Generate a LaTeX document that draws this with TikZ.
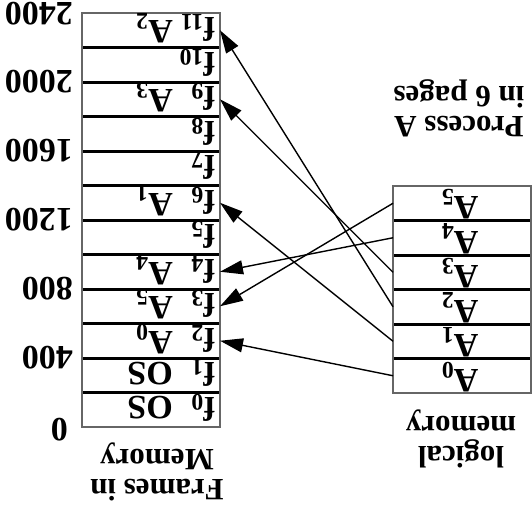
\documentclass[tikz,border=0pt]{standalone}
\usepackage{fontspec}
\setmainfont{Liberation Serif}
\usetikzlibrary{arrows.meta,positioning}

\tikzset{
  cell/.style={minimum width=138pt,minimum height=34.5pt,inner sep=0pt,outer sep=0pt},
  lbl/.style={font=\fontsize{34}{34}\selectfont\bfseries,rotate=180,inner sep=0pt},
  captxt/.style={font=\fontsize{31}{30}\selectfont\bfseries,rotate=180,inner sep=0pt,align=center},
  divider/.style={line width=3pt},
  border/.style={draw=black!60,line width=1.4pt},
  map/.style={line width=1.4pt,-{Triangle[length=23pt,width=14pt]}}
}
\newcommand{\fr}[1]{\raisebox{-0.12em}{f}\textsubscript{#1}}

\begin{document}
\begin{tikzpicture}[x=1pt,y=-1pt]
\useasboundingbox (0,0) rectangle (532,512);

% frames in memory
\foreach \i in {0,...,11}
  \node[cell] (f\i) at (151,{427-34.5*(\i+0.5)}) {};
\foreach \i in {1,...,11}
  \draw[divider] (f\i.south west) -- (f\i.south east);
\draw[border] (f0.south west) rectangle (f11.north east);
\foreach \i in {0,...,11}
  \node[lbl,anchor=west] (fl\i) at ([xshift=-5pt,yshift=2pt]f\i.east) {\fr{\i}};
\foreach \i/\t in {0/OS,1/OS,2/A\textsubscript{0},3/A\textsubscript{5},4/A\textsubscript{4},
                   6/A\textsubscript{1},9/A\textsubscript{3},11/A\textsubscript{2}}
  \node[lbl,anchor=west] (fa\i) at ([xshift=-47pt,yshift=2pt]f\i.east) {\t};

% addresses
\node[lbl,anchor=west] (m0) at (68,430) {0};
\foreach \i/\v in {1/400,2/800,3/1200,4/1600,5/2000}
  \node[lbl,anchor=west] (m\i) at ({73},{427-69*\i}) {\v};
\node[lbl,anchor=west] (m6) at (73,14) {2400};

% logical memory
\foreach \i in {0,...,5}
  \node[cell] (a\i) at (462,{393-34.5*(\i+0.5)}) {};
\foreach \i in {1,...,5}
  \draw[divider] (a\i.south west) -- (a\i.south east);
\draw[border] (a0.south west) rectangle (a5.north east);
\foreach \i in {0,...,5}
  \node[lbl] (al\i) at ([xshift=-2pt,yshift=-1pt]a\i) {A\textsubscript{\i}};

% captions
\node[captxt] (frcap) at (157,472) {Frames in\\Memory};
\node[captxt] (lgcap) at (461,439) {logical\\memory};
\node[captxt] (prcap) at (459,108) {Process A\\in 6 pages};

% page table mapping
\draw[map] (a0.west) -- (f2.east);
\draw[map] (a1.west) -- (f6.east);
\draw[map] (a2.west) -- (f11.east);
\draw[map] (a3.west) -- (f9.east);
\draw[map] (a4.west) -- (f4.east);
\draw[map] (a5.west) -- (f3.east);
\end{tikzpicture}
\end{document}
